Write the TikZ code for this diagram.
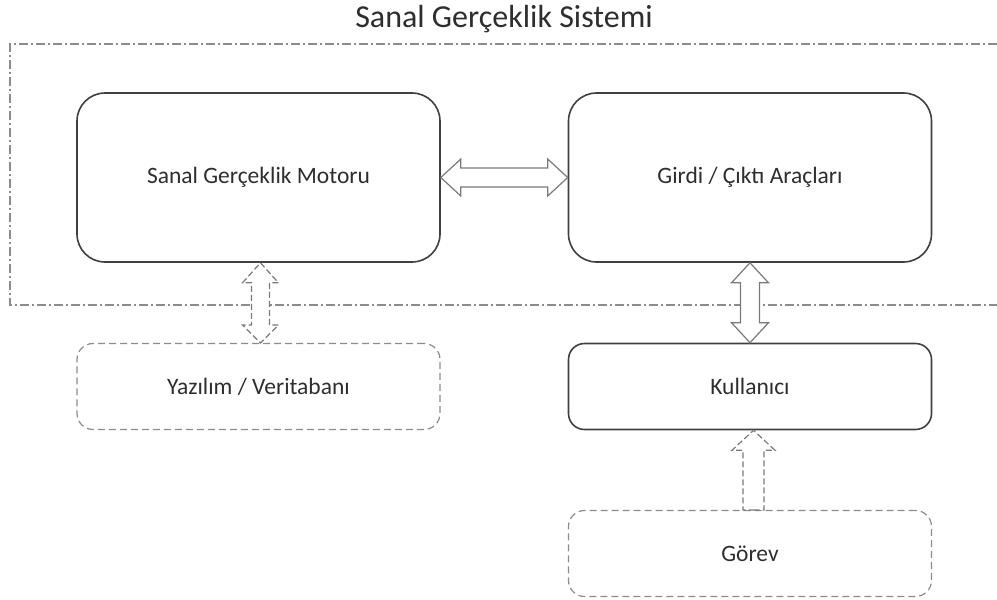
\documentclass[tikz,border=0pt]{standalone}
\usepackage{fontspec}
\setmainfont{Carlito}
\usetikzlibrary{calc}
\definecolor{boxline}{HTML}{404040}
\definecolor{dashline}{HTML}{8C8C8C}
\definecolor{arrline}{HTML}{7A7A7A}
\definecolor{txt}{HTML}{2E2E2E}
\begin{document}
\begin{tikzpicture}[x=1pt,y=-1pt,
  solidbox/.style={draw=boxline,line width=1.6pt,rounded corners=28pt,minimum width=363pt,minimum height=169pt,text=txt,font=\fontsize{23.5}{26}\selectfont,inner sep=0pt},
  smallbox/.style={draw=boxline,line width=1.6pt,rounded corners=16pt,minimum width=363pt,minimum height=86pt,text=txt,font=\fontsize{23.5}{26}\selectfont,inner sep=0pt},
  dashbox/.style={smallbox,draw=dashline,line width=1.2pt,dash pattern=on 7pt off 4pt},
  hollow/.style={draw=arrline,line width=1.2pt,fill=white,line join=miter},
  hollowdash/.style={hollow,dash pattern=on 6pt off 3pt},
  frame/.style={draw=dashline,line width=1.3pt,dash pattern=on 9pt off 3pt on 2pt off 3pt}]
\useasboundingbox (0,0) rectangle (997,600);
\fill[white] (0,0) rectangle (997,600);
\node[text=txt,font=\fontsize{32}{36}\selectfont] (title) at (504,19) {Sanal Gerçeklik Sistemi};
\draw[frame] (997,44) -- (10,44) -- (10,305) -- (997,305);
\node[solidbox] (motor) at (258.5,177.5) {Sanal Gerçeklik Motoru};
\node[solidbox] (girdi) at (750,177.5) {Girdi / Çıktı Araçları};
\node[dashbox] (yazilim) at (258.5,386.5) {Yazılım / Veritabanı};
\node[smallbox] (kullanici) at (750,386.5) {Kullanıcı};
\node[dashbox] (gorev) at (750,553.5) {Görev};
% horizontal double arrow
\draw[hollow] (motor.east) -- ($(motor.east)+(20,18.5)$) -- ($(motor.east)+(20,9.5)$) -- ($(girdi.west)+(-20,9.5)$) -- ($(girdi.west)+(-20,18.5)$) -- (girdi.west) -- ($(girdi.west)+(-20,-18.5)$) -- ($(girdi.west)+(-20,-9.5)$) -- ($(motor.east)+(20,-9.5)$) -- ($(motor.east)+(20,-18.5)$) -- cycle;
% vertical dashed double arrow motor - yazilim
\draw[hollowdash] ($(motor.south)+(2,0)$) coordinate (m1) -- ($(m1)+(18,20)$) -- ($(m1)+(9,20)$) -- ($(yazilim.north)+(11,-18)$) -- ($(yazilim.north)+(20,-18)$) -- ($(yazilim.north)+(2,0)$) -- ($(yazilim.north)+(-16,-18)$) -- ($(yazilim.north)+(-7,-18)$) -- ($(m1)+(-9,20)$) -- ($(m1)+(-18,20)$) -- cycle;
% vertical double arrow girdi - kullanici
\draw[hollow] (girdi.south) -- ($(girdi.south)+(18.5,20)$) -- ($(girdi.south)+(9.5,20)$) -- ($(kullanici.north)+(9.5,-20)$) -- ($(kullanici.north)+(18.5,-20)$) -- (kullanici.north) -- ($(kullanici.north)+(-18.5,-20)$) -- ($(kullanici.north)+(-9.5,-20)$) -- ($(girdi.south)+(-9.5,20)$) -- ($(girdi.south)+(-18.5,20)$) -- cycle;
% single dashed arrow gorev -> kullanici
\draw[hollowdash] ($(gorev.north)+(3.5,0)$) coordinate (g1) -- ($(g1)+(10.5,0)$) -- ($(kullanici.south)+(14,20)$) -- ($(kullanici.south)+(25,20)$) -- ($(kullanici.south)+(3.5,0)$) -- ($(kullanici.south)+(-18,20)$) -- ($(kullanici.south)+(-7,20)$) -- ($(g1)+(-10.5,0)$) -- cycle;
\end{tikzpicture}
\end{document}
